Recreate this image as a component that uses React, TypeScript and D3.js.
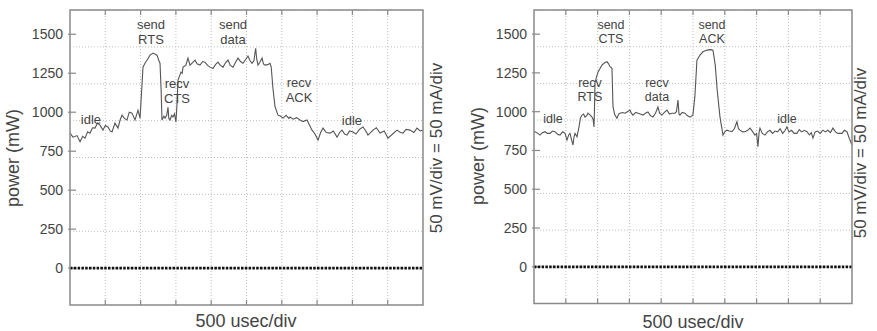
import React from "react";
import * as d3 from "d3";

// ---- data (time in usec, power in mW) ----
const leftTime = [0, 42, 100, 142, 180, 212, 250, 283, 320, 354, 390, 425, 467, 500, 538, 570, 595, 637, 680, 710, 737, 770, 807, 840, 878, 921, 963, 992, 1010, 1034, 1062, 1100, 1133, 1176, 1232, 1260, 1275, 1290, 1303, 1330, 1346, 1370, 1388, 1400, 1416, 1440, 1459, 1480, 1501, 1515, 1530, 1572, 1590, 1601, 1640, 1671, 1700, 1740, 1771, 1800, 1841, 1880, 1912, 1950, 1983, 2025, 2060, 2096, 2130, 2167, 2200, 2238, 2270, 2309, 2345, 2380, 2415, 2450, 2490, 2521, 2550, 2578, 2605, 2630, 2645, 2663, 2690, 2720, 2740, 2762, 2800, 2833, 2850, 2875, 2904, 2946, 2980, 3017, 3060, 3100, 3116, 3160, 3210, 3258, 3300, 3357, 3390, 3428, 3470, 3513, 3550, 3584, 3630, 3683, 3730, 3782, 3820, 3853, 3890, 3924, 3960, 4008, 4050, 4100, 4150, 4190, 4221, 4260, 4292, 4340, 4391, 4450, 4504, 4570, 4632, 4680, 4717, 4760, 4816, 4870, 4915, 4960, 5000];
const leftPower = [866, 840, 850, 810, 845, 834, 875, 866, 900, 898, 930, 917, 885, 915, 905, 880, 873, 930, 898, 950, 981, 960, 950, 1000, 994, 950, 1013, 962, 1100, 1289, 1314, 1340, 1366, 1379, 1366, 1330, 1314, 1150, 950, 975, 962, 980, 1032, 960, 950, 980, 969, 990, 937, 1050, 1206, 1257, 1250, 1289, 1300, 1347, 1302, 1320, 1334, 1310, 1302, 1325, 1321, 1300, 1289, 1280, 1305, 1321, 1300, 1289, 1315, 1334, 1300, 1289, 1320, 1347, 1325, 1314, 1340, 1360, 1330, 1314, 1330, 1410, 1340, 1302, 1320, 1347, 1310, 1302, 1305, 1314, 1290, 1150, 1035, 981, 975, 962, 980, 960, 969, 955, 965, 950, 940, 950, 920, 885, 860, 821, 870, 898, 870, 866, 880, 840, 870, 885, 860, 853, 880, 873, 860, 890, 905, 880, 853, 870, 885, 900, 866, 880, 834, 860, 885, 870, 866, 890, 885, 870, 898, 880, 885];

const rightTime = [0, 16, 60, 94, 130, 173, 210, 252, 290, 330, 370, 409, 450, 487, 519, 545, 566, 590, 613, 630, 645, 676, 707, 730, 755, 780, 802, 830, 849, 880, 912, 930, 943, 950, 959, 980, 1006, 1040, 1069, 1110, 1148, 1170, 1195, 1226, 1242, 1270, 1305, 1330, 1352, 1390, 1431, 1470, 1509, 1530, 1556, 1600, 1635, 1670, 1713, 1750, 1792, 1830, 1871, 1910, 1949, 1975, 2012, 2050, 2091, 2130, 2169, 2216, 2240, 2264, 2280, 2295, 2330, 2374, 2410, 2452, 2499, 2530, 2562, 2610, 2657, 2720, 2780, 2814, 2850, 2880, 2924, 2971, 3000, 3034, 3070, 3113, 3150, 3191, 3215, 3238, 3280, 3317, 3360, 3396, 3440, 3474, 3500, 3521, 3540, 3553, 3590, 3631, 3670, 3710, 3750, 3790, 3830, 3870, 3910, 3950, 3977, 4010, 4050, 4090, 4134, 4170, 4210, 4250, 4292, 4330, 4360, 4386, 4420, 4460, 4500, 4543, 4580, 4620, 4660, 4700, 4740, 4780, 4842, 4880, 4920, 4968, 5000];
const rightPower = [871, 871, 860, 849, 865, 871, 860, 860, 875, 871, 855, 849, 870, 860, 817, 850, 860, 820, 785, 840, 860, 838, 901, 960, 978, 985, 965, 975, 991, 980, 965, 950, 901, 1000, 1184, 1220, 1255, 1280, 1300, 1315, 1322, 1310, 1290, 1280, 1032, 980, 958, 985, 990, 995, 990, 1000, 1010, 990, 978, 995, 990, 985, 978, 990, 998, 975, 965, 990, 1030, 990, 978, 995, 1010, 985, 990, 990, 1000, 1075, 985, 978, 995, 990, 975, 965, 978, 1100, 1332, 1365, 1386, 1397, 1400, 1397, 1300, 1140, 967, 849, 870, 881, 875, 871, 890, 935, 890, 881, 870, 871, 880, 894, 870, 849, 860, 774, 870, 894, 860, 849, 870, 880, 860, 875, 870, 890, 860, 880, 903, 870, 880, 860, 860, 885, 870, 880, 871, 850, 865, 830, 870, 875, 860, 881, 870, 880, 865, 894, 870, 860, 860, 880, 871, 817, 785];

const yTickValues = [0, 250, 500, 750, 1000, 1250, 1500];
const yTickLabels = ["0", "250", "500", "750", "1000", "1250", "1500"];

const leftLabels = [["idle"], ["send", "RTS"], ["recv", "CTS"], ["send", "data"], ["recv", "ACK"], ["idle"]];
const rightLabels = [["idle"], ["recv", "RTS"], ["send", "CTS"], ["recv", "data"], ["send", "ACK"], ["idle"]];

const xAxisTitle = "500 usec/div";
const yAxisTitle = "power (mW)";
const scaleTitle = "50 mV/div = 50 mA/div";

// ---- layout ----
const DIV = 236.5; // mW per vertical division
const TIME_DIVS = 10;
const TIME_PER_DIV = 500;

const leftLabelAnchors = [[297, 956], [1147, 1565], [1516, 1186], [2309, 1565], [3244, 1192], [3994, 949]];
const rightLabelAnchors = [[299, 959], [880, 1191], [1210, 1564], [1934, 1191], [2798, 1564], [3977, 959]];

const panels = [
  {
    frame: { left: 70, right: 423, top: 10, bottom: 305 },
    time: leftTime, power: leftPower,
    labels: leftLabels, anchors: leftLabelAnchors, lineGap: 15, labelSize: 13,
    yTitleX: 19, yTitleY: 158, scaleX: 442, scaleY: 148, xTitleX: 246, xTitleY: 327,
  },
  {
    frame: { left: 534, right: 852, top: 10, bottom: 303.5 },
    time: rightTime, power: rightPower,
    labels: rightLabels, anchors: rightLabelAnchors, lineGap: 14, labelSize: 12.5,
    yTitleX: 484, yTitleY: 156, scaleX: 866, scaleY: 153, xTitleX: 693, xTitleY: 328,
  },
];

const TEXT = "#444";
const FONT = "'Liberation Sans', Arial, Helvetica, sans-serif";

function Panel({ p }: { p: any }) {
  const { frame } = p;
  const x = d3.scaleLinear().domain([0, TIME_DIVS * TIME_PER_DIV]).range([frame.left, frame.right]);
  const y = d3.scaleLinear().domain([-DIV, 7 * DIV]).range([frame.bottom, frame.top]);
  const line = d3.line<number>().x((_, i) => x(p.time[i])).y((v) => y(v)).curve(d3.curveLinear);
  const vGrid = d3.range(1, TIME_DIVS).map((i) => i * TIME_PER_DIV);
  const hGrid = d3.range(0, 8).map((i) => i * DIV);
  return (
    <g>
      {vGrid.map((t) => (
        <line key={"v" + t} x1={x(t)} x2={x(t)} y1={frame.top} y2={frame.bottom} stroke="#bdbdbd" strokeWidth={1} strokeDasharray="1,2" />
      ))}
      {hGrid.map((v) => (
        <line key={"h" + v} x1={frame.left} x2={frame.right} y1={y(v)} y2={y(v)} stroke="#bdbdbd" strokeWidth={1} strokeDasharray="1,2" />
      ))}
      {vGrid.map((t) => (
        <g key={"tk" + t}>
          <line x1={x(t)} x2={x(t)} y1={frame.bottom} y2={frame.bottom - 5} stroke="#888" strokeWidth={1.2} />
          <line x1={x(t)} x2={x(t)} y1={frame.top} y2={frame.top + 5} stroke="#888" strokeWidth={1.2} />
        </g>
      ))}
      {yTickValues.map((v, i) => (
        <g key={"yt" + v}>
          <line x1={frame.left - 2} x2={frame.left + 6} y1={y(v)} y2={y(v)} stroke="#888" strokeWidth={1.2} />
          <text x={frame.left - 7} y={y(v) + 5} textAnchor="end" fontSize={14} fill={TEXT} fontFamily={FONT}>
            {yTickLabels[i]}
          </text>
        </g>
      ))}
      <line x1={frame.left} x2={frame.right} y1={y(0)} y2={y(0)} stroke="#111" strokeWidth={2.8} strokeDasharray="2.5,1.3" />
      <path d={line(p.power) || ""} fill="none" stroke="#555" strokeWidth={1.1} />
      <rect x={frame.left} y={frame.top} width={frame.right - frame.left} height={frame.bottom - frame.top} fill="none" stroke="#8a8a8a" strokeWidth={1.5} />
      {p.labels.map((lines: string[], i: number) => (
        <text key={"an" + i} textAnchor="middle" fontSize={p.labelSize} fill={TEXT} fontFamily={FONT}>
          {lines.map((s, j) => (
            <tspan key={j} x={x(p.anchors[i][0])} y={y(p.anchors[i][1]) + 4.5 + j * p.lineGap}>{s}</tspan>
          ))}
        </text>
      ))}
      <text transform={`translate(${p.yTitleX},${p.yTitleY}) rotate(-90)`} textAnchor="middle" fontSize={18} fill={TEXT} fontFamily={FONT}>
        {yAxisTitle}
      </text>
      <text transform={`translate(${p.scaleX},${p.scaleY}) rotate(-90)`} textAnchor="middle" fontSize={17} fill={TEXT} fontFamily={FONT}>
        {scaleTitle}
      </text>
      <text x={p.xTitleX} y={p.xTitleY} textAnchor="middle" fontSize={18} fill={TEXT} fontFamily={FONT}>
        {xAxisTitle}
      </text>
    </g>
  );
}

export default function App() {
  return (
    <svg width={877} height={331} style={{ position: "absolute", left: 0, top: 0, background: "#fff" }}>
      <rect x={0} y={0} width={877} height={331} fill="#fff" />
      {panels.map((p, i) => (
        <Panel key={i} p={p} />
      ))}
    </svg>
  );
}
